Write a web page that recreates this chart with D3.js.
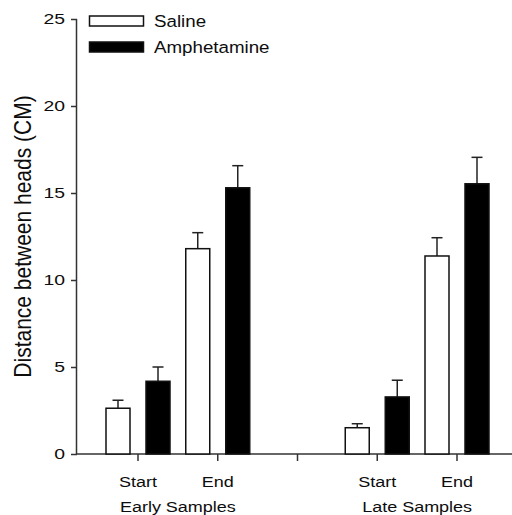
<!DOCTYPE html>
<html>
<head>
<meta charset="utf-8">
<script src="https://cdn.jsdelivr.net/npm/d3@7"></script>
<style>
  html, body { margin: 0; padding: 0; background: #fff; }
  svg { display: block; }
  text { font-family: "Liberation Sans", Arial, Helvetica, sans-serif; fill: #0d0d0d; }
</style>
</head>
<body>
<div id="chart"></div>
<script>
// ---- data ----
const groups = ["Early Samples", "Late Samples"];
const conditions = ["Start", "End"];
const series = ["Saline", "Amphetamine"];
// means: [group][condition]
const salineMeans = [[2.63, 11.8], [1.51, 11.38]];
const salineErr   = [[0.46, 0.92], [0.23, 1.05]];
const amphMeans   = [[4.18, 15.3], [3.28, 15.53]];
const amphErr     = [[0.82, 1.27], [0.96, 1.52]];
const yTicks = [0, 5, 10, 15, 20, 25];
const yLabel = "Distance between heads (CM)";

// ---- layout ----
const W = 512, H = 515;
const svg = d3.select("#chart").append("svg").attr("width", W).attr("height", H);

const y = d3.scaleLinear().domain([0, 25]).range([454, 19]);
// slot positions: group g, condition c -> slot g*3 + c ; slot 2 is separator tick
const x = d3.scaleLinear().domain([0, 4]).range([138, 457]);
const sub = d3.scaleBand().domain(series).range([-32, 32]).paddingInner(0.4).paddingOuter(0);

const axisColor = "#333";
const stretch = 1.2; // glyphs in the reference are horizontally wide

// y axis
const yAxis = d3.axisLeft(y).tickValues(yTicks).tickSize(6).tickPadding(3.5).tickFormat(d3.format("d"));
const gy = svg.append("g").attr("transform", "translate(77,0)").call(yAxis);
gy.select(".domain").attr("stroke", axisColor).attr("stroke-width", 1.5).attr("d", `M-0.5,${y(25)}V${y(0)}`);
gy.selectAll(".tick line").attr("stroke", axisColor).attr("stroke-width", 1.5);
gy.selectAll(".tick text").attr("font-size", 15.5).attr("font-family", "Liberation Sans, Arial, sans-serif")
  .attr("fill", "#0d0d0d").attr("transform", `scale(${stretch + 0.05},1)`);

// x axis
const slots = [0, 1, 2, 3, 4];
const gx = svg.append("g").attr("transform", `translate(0,${y(0)})`);
gx.append("line").attr("x1", 77).attr("x2", 512).attr("y1", 0).attr("y2", 0)
  .attr("stroke", axisColor).attr("stroke-width", 1.5);
gx.selectAll("line.tick").data(slots).enter().append("line").attr("class", "tick")
  .attr("x1", d => x(d)).attr("x2", d => x(d)).attr("y1", 0).attr("y2", 7)
  .attr("stroke", axisColor).attr("stroke-width", 1.5);

function htext(px, py, size, str, anchor, sx) {
  return svg.append("text").attr("transform", `translate(${px},${py}) scale(${sx},1)`)
    .attr("text-anchor", anchor).attr("font-size", size).text(str);
}

// condition labels
groups.forEach((g, gi) => {
  conditions.forEach((c, ci) => {
    htext(x(gi * 3 + ci), 487, 15, c, "middle", stretch);
  });
  htext(x(gi * 3 + 0.5), 512, 15, g, "middle", stretch);
});

// bars
const bars = [];
groups.forEach((g, gi) => conditions.forEach((c, ci) => {
  bars.push({ s: "Saline", slot: gi * 3 + ci, v: salineMeans[gi][ci], e: salineErr[gi][ci] });
  bars.push({ s: "Amphetamine", slot: gi * 3 + ci, v: amphMeans[gi][ci], e: amphErr[gi][ci] });
}));

const bg = svg.append("g");
bars.forEach(d => {
  const cx = x(d.slot) + sub(d.s) + sub.bandwidth() / 2;
  bg.append("line").attr("x1", cx).attr("x2", cx).attr("y1", y(d.v)).attr("y2", y(d.v + d.e))
    .attr("stroke", "#222").attr("stroke-width", 1.5);
  bg.append("line").attr("x1", cx - 5.5).attr("x2", cx + 5.5).attr("y1", y(d.v + d.e)).attr("y2", y(d.v + d.e))
    .attr("stroke", "#222").attr("stroke-width", 1.5);
});
bg.selectAll("rect").data(bars).enter().append("rect")
  .attr("x", d => x(d.slot) + sub(d.s))
  .attr("width", sub.bandwidth())
  .attr("y", d => y(d.v))
  .attr("height", d => y(0) - y(d.v))
  .attr("fill", d => d.s === "Saline" ? "#fff" : "#000")
  .attr("stroke", "#111").attr("stroke-width", 1.5);

// legend
series.forEach((s, i) => {
  svg.append("rect").attr("x", 89.5).attr("y", 16 + i * 26).attr("width", 54).attr("height", 10)
    .attr("fill", s === "Saline" ? "#fff" : "#000").attr("stroke", "#111").attr("stroke-width", 1.5);
  htext(154, 27 + i * 26, 16.3, s, "start", 1.15);
});

// y label
svg.append("text").attr("transform", `translate(31,236.5) scale(1.18,1) rotate(-90)`)
  .attr("text-anchor", "middle").attr("font-size", 21).text(yLabel);
</script>
</body>
</html>
